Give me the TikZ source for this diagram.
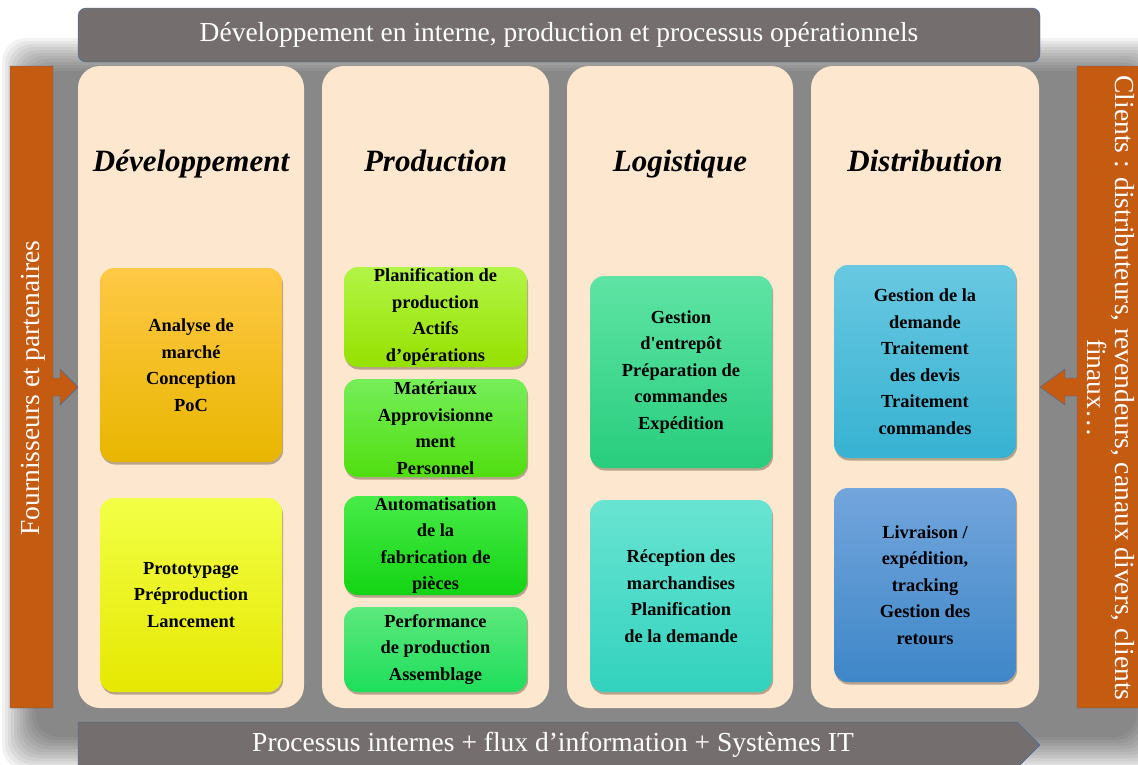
\documentclass[tikz,border=0pt]{standalone}
\usepackage{fontspec}
\setmainfont{Liberation Serif}
\usetikzlibrary{shadows}

\definecolor{barorange}{RGB}{197,90,17}
\definecolor{bargray}{RGB}{116,111,110}
\definecolor{barline}{RGB}{65,105,160}
\definecolor{colfill}{RGB}{253,231,206}

\tikzset{
  colbox/.style={fill=colfill, rounded corners=22pt, minimum height=642pt, inner sep=0pt},
  coltitle/.style={font=\bfseries\itshape\fontsize{31}{34}\selectfont, anchor=base},
  task/.style={rounded corners=14pt, minimum width=182pt, inner sep=0pt, align=center,
    font=\bfseries\fontsize{18.4}{26.5}\selectfont,
    drop shadow={shadow xshift=1pt, shadow yshift=-2.5pt, opacity=.35, fill=black!70!brown}},
  bartext/.style={text=white, font=\fontsize{27.5}{28}\selectfont, align=center}
}

\begin{document}
\begin{tikzpicture}[x=1pt,y=-1pt]
  \useasboundingbox (0,0) rectangle (1138,764);
  % soft gray glow behind the columns
  \foreach \i in {0,...,11}
    \fill[black, opacity=.05, rounded corners=24pt] (2+3*\i,38+3*\i) rectangle (1170-3*\i,770-3*\i);

  % header and footer bars
  \node[fill=bargray, draw=barline, rounded corners=8pt, minimum width=962pt, minimum height=54pt,
        bartext] (head) at (559,35) {Développement en interne, production et processus opérationnels};
  \draw[fill=bargray, draw=barline] (78,722) -- (1017,722) -- (1040,745) -- (1017,768) -- (78,768) -- cycle;
  \node[bartext] (foot) at (553,745) {Processus internes + flux d’information + Systèmes IT};

  % side bars with their arrows
  \draw[fill=barorange, draw=barline] (10,66) -- (53,66) -- (53,378) -- (60,378) -- (60,369) -- (78,387)
    -- (60,405) -- (60,396) -- (53,396) -- (53,708) -- (10,708) -- cycle;
  \node[bartext, rotate=90] (supp) at (33,388) {Fournisseurs et partenaires};
  \draw[fill=barorange, draw=barline] (1160,66) -- (1077,66) -- (1077,378) -- (1065,378) -- (1065,369) -- (1040,387)
    -- (1065,405) -- (1065,396) -- (1077,396) -- (1077,708) -- (1160,708) -- cycle;
  \node[bartext, rotate=-90] (cust) at (1111,388) {Clients : distributeurs, revendeurs, canaux divers, clients\\finaux…};

  % the four columns
  \node[colbox, minimum width=226pt] (dev) at (191,387) {};
  \node[colbox, minimum width=227pt] (prod) at (435.5,387) {};
  \node[colbox, minimum width=226pt] (log) at (680,387) {};
  \node[colbox, minimum width=228pt] (dist) at (925,387) {};
  \node[coltitle] (devT) at (191,171) {Développement};
  \node[coltitle] (prodT) at (435.5,171) {Production};
  \node[coltitle] (logT) at (680,171) {Logistique};
  \node[coltitle] (distT) at (925,171) {Distribution};

  % Développement
  \node[task, minimum height=194pt, top color={rgb,255:red,255;green,200;blue,70}, bottom color={rgb,255:red,232;green,182;blue,0}]
    (dev1) at (191,365) {Analyse de\\marché\\Conception\\PoC};
  \node[task, minimum height=194pt, top color={rgb,255:red,242;green,255;blue,70}, bottom color={rgb,255:red,230;green,232;blue,0}]
    (dev2) at (191,595) {Prototypage\\Préproduction\\Lancement};

  % Production
  \node[task, minimum width=183pt, minimum height=100pt, top color={rgb,255:red,178;green,245;blue,70}, bottom color={rgb,255:red,150;green,225;blue,0}]
    (prod1) at (435.5,317) {Planification de\\production\\Actifs\\d’opérations};
  \node[task, minimum width=183pt, minimum height=98pt, top color={rgb,255:red,118;green,238;blue,90}, bottom color={rgb,255:red,80;green,222;blue,15}]
    (prod2) at (435.5,428) {Matériaux\\Approvisionne\\ment\\Personnel};
  \node[task, minimum width=183pt, minimum height=99pt, top color={rgb,255:red,72;green,235;blue,72}, bottom color={rgb,255:red,20;green,212;blue,20}]
    (prod3) at (435.5,545.5) {Automatisation\\de la\\fabrication de\\pièces};
  \node[task, minimum width=183pt, minimum height=85pt, top color={rgb,255:red,92;green,232;blue,125}, bottom color={rgb,255:red,30;green,222;blue,90}]
    (prod4) at (435.5,649.5) {Performance\\de production\\Assemblage};

  % Logistique
  \node[task, minimum height=192pt, top color={rgb,255:red,95;green,228;blue,165}, bottom color={rgb,255:red,40;green,205;blue,125}]
    (log1) at (681,372) {Gestion\\d\textquotesingle entrepôt\\Préparation de\\commandes\\Expédition};
  \node[task, minimum height=192pt, top color={rgb,255:red,105;green,228;blue,210}, bottom color={rgb,255:red,50;green,210;blue,190}]
    (log2) at (681,596) {Réception des\\marchandises\\Planification\\de la demande};

  % Distribution
  \node[task, minimum height=193pt, top color={rgb,255:red,105;green,200;blue,225}, bottom color={rgb,255:red,55;green,178;blue,210}]
    (dist1) at (925,361.5) {Gestion de la\\demande\\Traitement\\des devis\\Traitement\\commandes};
  \node[task, minimum height=194pt, top color={rgb,255:red,115;green,165;blue,220}, bottom color={rgb,255:red,62;green,135;blue,200}]
    (dist2) at (925,585) {Livraison /\\expédition,\\tracking\\Gestion des\\retours};
\end{tikzpicture}
\end{document}
